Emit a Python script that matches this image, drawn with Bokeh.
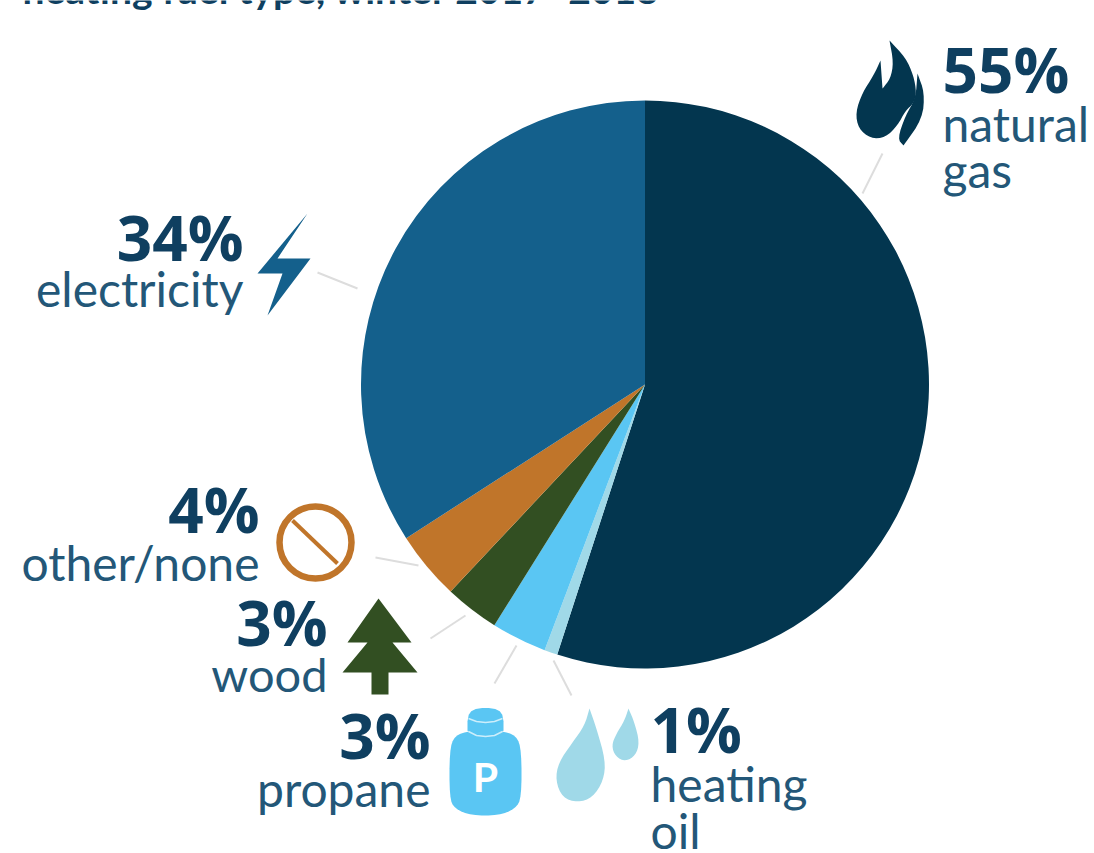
from math import pi
from bokeh.plotting import figure
from bokeh.models import Range1d
from bokeh.core.properties import value
from bokeh.embed import file_html
from bokeh.resources import INLINE

categories = ["natural gas", "heating oil", "propane", "wood", "other/none", "electricity"]
shares = [55, 0.75, 3.15, 3.1, 3.9, 34.1]
colors = ["#03364f", "#a0d9e8", "#5ac6f3", "#324f22", "#c0752a", "#14608c"]
title_text = "heating fuel type, winter 2017\u20132018"

W, H = 1094, 853
CX, CY, R = 644.5, 384, 284
PCT = "#0f3f60"
LAB = "#235778"
FONT = "Lato"
PFONT = "Open Sans"
BASE_SHIFT = 0.385


def Y(v):
    return H - v


def smooth(pts, n=3):
    for _ in range(n):
        out = []
        for i in range(len(pts)):
            a, b = pts[i], pts[(i + 1) % len(pts)]
            out.append((0.75 * a[0] + 0.25 * b[0], 0.75 * a[1] + 0.25 * b[1]))
            out.append((0.25 * a[0] + 0.75 * b[0], 0.25 * a[1] + 0.75 * b[1]))
        pts = out
    return pts


p = figure(width=W, height=H, output_backend="svg", toolbar_location=None,
           x_range=Range1d(0, W), y_range=Range1d(0, H), min_border=0,
           x_axis_location=None, y_axis_location=None,
           styles={"position": "absolute", "left": "0", "top": "0"})
p.grid.visible = False
p.outline_line_color = None
p.background_fill_color = "white"


def shape(pts, color):
    p.patch([q[0] for q in pts], [Y(q[1]) for q in pts], fill_color=color, line_color=None)


def label(x, y, txt, size, color, align="left", style="normal", font=FONT):
    p.text([x], [Y(y - BASE_SHIFT * size)], text=[txt], text_font=value(font), text_font_size=f"{size}px",
           text_color=color, text_align=align, text_baseline="alphabetic", text_font_style=style)


def pct(x, y, txt, align="left"):
    label(x, y, txt, 62, PCT, align, "bold", PFONT)


# leader lines
for a, b in [((882, 153), (862, 193)), ((317, 272), (357, 288)), ((375, 557), (418, 565)),
             ((430, 638), (465, 615)), ((516, 645), (494, 683)), ((553, 660), (571, 695))]:
    p.line([a[0], b[0]], [Y(a[1]), Y(b[1])], line_color="#dddddd", line_width=2)

# pie, clockwise from twelve o'clock
total = sum(shares)
ang = pi / 2
for s, c in zip(shares, colors):
    end = ang - 2 * pi * s / total
    p.wedge([CX], [Y(CY)], radius=R, start_angle=ang, end_angle=end, direction="clock",
            fill_color=c, line_color=None)
    ang = end

# flame
shape(smooth([(889, 40), (889, 40), (905, 57), (913, 75), (916, 92), (913, 103), (905, 110), (897, 125),
              (885, 137), (870, 138), (858, 128), (855, 112), (862, 92), (873, 75), (880, 60), (880, 60),
              (882, 88), (882, 88), (890, 78), (893, 62)], 2), colors[0])
shape(smooth([(917, 73), (917, 73), (924, 92), (922, 118), (903, 145), (903, 145), (897, 138),
              (905, 115), (915, 98)], 2), colors[0])

# bolt
shape([(307, 213), (277, 258), (310, 258), (267, 315), (282, 273), (257, 273)], colors[5])

# no-symbol
p.circle([315], [Y(542)], radius=36, fill_color=None, line_color=colors[4], line_width=6.5)
p.line([292, 337], [Y(520), Y(563)], line_color=colors[4], line_width=4)

# tree
shape([(378, 598), (411, 642), (392, 642), (417, 672), (388, 672), (388, 694), (371, 694),
       (371, 672), (342, 672), (367, 642), (347, 642)], colors[3])

# propane bottle
shape(smooth([(470, 730), (500, 730), (516, 735), (521, 750), (521, 797), (515, 808), (498, 815),
              (471, 815), (454, 808), (449, 797), (449, 750), (454, 735)], 2), colors[2])
shape(smooth([(467, 716), (472, 709), (485, 707), (498, 709), (503, 716), (503, 735), (467, 735)], 1), colors[2])
p.line([468, 476, 485, 494, 502], [Y(718), Y(721), Y(722), Y(721), Y(718)], line_color="#cdeefb", line_width=1.5)
p.line([468, 476, 485, 494, 502], [Y(731), Y(735), Y(736), Y(735), Y(731)], line_color="#cdeefb", line_width=1.5)
label(485, 792, "P", 41, "white", "center", "bold")

# drops
shape(smooth([(589, 708), (589, 708), (596, 728), (605, 760), (603, 780), (592, 797), (577, 802),
              (562, 797), (555, 780), (558, 762), (572, 742), (584, 725)], 2), colors[1])
shape(smooth([(628, 708), (628, 708), (634, 722), (639, 742), (635, 755), (625, 761), (615, 756),
              (611, 745), (616, 733), (624, 720)], 2), colors[1])

# texts
label(22, 4, title_text, 39, PCT, "left", "bold")
pct(942, 92, "55%")
label(942, 141, "natural", 48, LAB)
label(942, 187, "gas", 48, LAB)
pct(243, 260, "34%", "right")
label(243, 306, "electricity", 48, LAB, "right")
pct(259, 532, "4%", "right")
label(259, 580, "other/none", 48, LAB, "right")
pct(327, 645, "3%", "right")
label(327, 692, "wood", 47, LAB, "right")
pct(430, 758, "3%", "right")
label(430, 806, "propane", 48, LAB, "right")
pct(650, 752, "1%")
label(650, 801, "heating", 48, LAB)
label(650, 848, "oil", 48, LAB)

open("out.html", "w").write(file_html(p, INLINE))
